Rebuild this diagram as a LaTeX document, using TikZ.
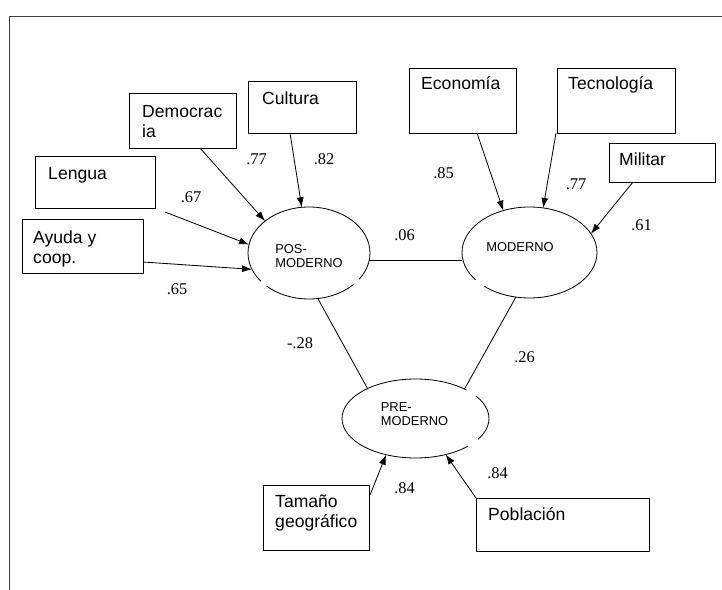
\documentclass[tikz,border=0pt]{standalone}
\usepackage{fontspec}
\setmainfont{Liberation Serif}
\setsansfont{Liberation Sans}
\usetikzlibrary{shapes.geometric,arrows.meta,calc}

% white chord that opens a short gap in an ellipse outline
% #1 node, #2 x radius, #3 y radius, #4/#5 start/end parameter angle
\newcommand\ellgap[5]{%
  \draw[gapmark] ($(#1.center)+({#2*cos(#4)},{#3*sin(#4)})$) --
                 ($(#1.center)+({#2*cos(#5)},{#3*sin(#5)})$);}

\begin{document}
\begin{tikzpicture}[x=0.03cm,y=-0.03cm,
  box/.style 2 args={draw, line width=0.7pt, inner sep=0, outer sep=0,
    anchor=north west, minimum width={#1*0.03cm}, minimum height={#2*0.03cm}},
  boxtext/.style={font=\sffamily\fontsize{15}{17}\selectfont, inner sep=0,
    anchor=base west, align=left},
  latent/.style 2 args={draw, ellipse, line width=0.7pt, inner sep=0, outer sep=0,
    minimum width={#1*0.03cm}, minimum height={#2*0.03cm}},
  lattext/.style={font=\sffamily\fontsize{11}{12.5}\selectfont, align=left, inner sep=0},
  coef/.style={font=\fontsize{14}{16}\selectfont, inner sep=0},
  load/.style={-{Latex[length=3mm,width=2.1mm]}, line width=0.7pt},
  link/.style={line width=0.7pt},
  gapmark/.style={white, line width=3pt, line cap=butt}
]
\useasboundingbox (0,0) rectangle (722,590);

% page frame
\draw[line width=0.8pt, black!75] (722,16) -- (9,16) -- (9,590);

% latent variables
\node[latent={122}{92}] (pos) at (309,253) {};
\node[latent={135}{91}] (mod) at (529.5,252.5) {};
\node[latent={147}{79}] (pre) at (415.5,418.5) {};
\ellgap{pos}{61}{46}{134}{142}
\ellgap{pos}{61}{46}{35}{43}
\ellgap{mod}{67.5}{45.5}{132}{143}
\ellgap{pre}{73.5}{39.5}{-46}{-35}
\ellgap{pre}{73.5}{39.5}{32}{44}
\node[lattext] (postxt) at (309,256) {POS-\\MODERNO};
\node[lattext] (modtxt) at (520,247) {MODERNO};
\node[lattext] (pretxt) at (414.5,414) {PRE-\\MODERNO};

% indicator boxes
\node[box={107}{55}] (dem) at (129,93) {};
\node[box={108}{52}] (cul) at (248,81) {};
\node[box={120}{52}] (len) at (35,156) {};
\node[box={121}{54}] (ayu) at (22,219) {};
\node[box={107}{65}] (eco) at (409,68) {};
\node[box={118}{65}] (tec) at (557,68) {};
\node[box={106}{39}] (mil) at (609,143) {};
\node[box={106}{65}] (tam) at (263,485) {};
\node[box={173}{53}] (pob) at (476,498) {};

% two-line labels are placed by the baseline of their last line
\node[boxtext] (demtxt) at (142,137.5) {Democrac\\ia};
\node[boxtext] (cultxt) at (262,104.6) {Cultura};
\node[boxtext] (lentxt) at (48,179.6) {Lengua};
\node[boxtext] (ayutxt) at (33,263.5) {Ayuda y\\coop.};
\node[boxtext] (ecotxt) at (421,89.6) {Economía};
\node[boxtext] (tectxt) at (568,89.6) {Tecnología};
\node[boxtext] (miltxt) at (619,165.6) {Militar};
\node[boxtext] (tamtxt) at (275,527.5) {Tamaño\\geográfico};
\node[boxtext] (pobtxt) at (488,520.6) {Población};

% loadings
\draw[load] ($(dem.south west)+(71,0)$) -- (pos.144);
\draw[load] ($(cul.south west)+(42,0)$) -- (pos.99);
\draw[load] ($(len.south east)+(10,4)$) -- (pos.172);
\draw[load] ($(ayu.south east)+(0,-11)$) -- (pos.196);
\draw[load] ($(eco.south west)+(68,0)$) -- (mod.122);
\draw[load] ($(tec.south west)+(-1,0)$) -- (mod.73);
\draw[load] ($(mil.south west)+(24,0)$) -- (mod.17);
\draw[load] ($(tam.north east)+(1,10)$) -- (pre.-129);
\draw[load] (pob.north west) -- (pre.-50);

% correlations between latent variables
\draw[link] (pos.-7) -- (pos.-7 -| mod.west);
\draw[link] (pos.-79) -- (pre.148);
\draw[link] (mod.-107) -- (pre.31);

% coefficients
\node[coef] (c1) at (256.5,159) {.77};
\node[coef] (c2) at (324,159) {.82};
\node[coef] (c3) at (191,197) {.67};
\node[coef] (c4) at (177,289) {.65};
\node[coef] (c5) at (404.5,235) {.06};
\node[coef] (c6) at (443.5,173) {.85};
\node[coef] (c7) at (576,184) {.77};
\node[coef] (c8) at (641.5,225) {.61};
\node[coef] (c9) at (300,343) {-.28};
\node[coef] (c10) at (524.5,357) {.26};
\node[coef] (c11) at (404.5,488) {.84};
\node[coef] (c12) at (497.5,473) {.84};
\end{tikzpicture}
\end{document}
